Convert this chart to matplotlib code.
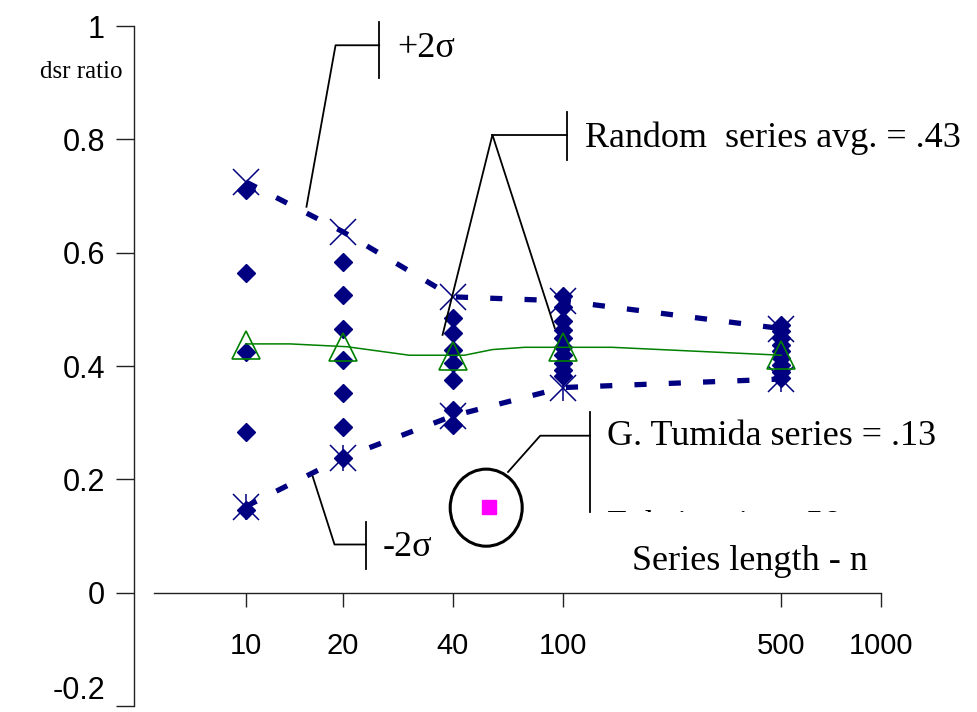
import numpy as np
import matplotlib.pyplot as plt
from matplotlib.patches import Ellipse
from matplotlib.transforms import Bbox, TransformedBbox

# -------------------------
# data
# -------------------------
n_labels = ['10', '20', '40', '100', '500', '1000']
n_pos = [0.885, 1.82, 2.88, 3.94, 6.04, 7.0]      # category slots on the x axis

dsr_10 = [0.711, 0.564, 0.425, 0.284, 0.146]
dsr_20 = [0.584, 0.525, 0.466, 0.410, 0.352, 0.293, 0.238]
dsr_40 = [0.485, 0.458, 0.428, 0.405, 0.375, 0.323, 0.296]
dsr_100 = [0.523, 0.505, 0.479, 0.464, 0.450, 0.434, 0.420, 0.405, 0.393, 0.382]
dsr_500 = [0.473, 0.461, 0.450, 0.437, 0.426, 0.414, 0.402, 0.390, 0.379]
dsr_cols = [dsr_10, dsr_20, dsr_40, dsr_100, dsr_500]

plus_2s = [0.725, 0.637, 0.522, 0.515, 0.466]
minus_2s = [0.152, 0.238, 0.312, 0.362, 0.377]
avg_pts = [0.437, 0.433, 0.418, 0.434, 0.419]

avg_line_x = [0.885, 1.31, 1.86, 2.46, 2.99, 3.26, 3.57, 4.41, 6.04]
avg_line_y = [0.439, 0.439, 0.434, 0.419, 0.419, 0.429, 0.433, 0.433, 0.419]

tumida_x = 3.23
tumida_y = 0.152

y_ticks = [-0.2, 0, 0.2, 0.4, 0.6, 0.8, 1.0]
y_labels = ['-0.2', '0', '0.2', '0.4', '0.6', '0.8', '1']

navy = '#000080'
serif = ['Liberation Serif', 'DejaVu Serif']
sans = ['Liberation Sans', 'DejaVu Sans']

fig = plt.figure(figsize=(9.77, 7.12), dpi=100)
ax = fig.add_axes([134 / 977, 1 - 706 / 712, (881 - 134) / 977, (706 - 26) / 712])
ax.set_xlim(-0.19, 7.0)
ax.set_ylim(-0.2, 1.0)

# -------------------------
# series
# -------------------------
xs5 = n_pos[:5]
ax.plot(xs5, plus_2s, color=navy, lw=3.8, ls=(0, (2.3, 4.2)), zorder=2)
ax.plot(xs5, minus_2s, color=navy, lw=3.8, ls=(0, (2.3, 4.2)), zorder=2)

for x, col in zip(xs5, dsr_cols):
    ax.plot([x] * len(col), col, ls='none', marker='D', ms=9, color=navy, zorder=3)

ax.plot(xs5, plus_2s, ls='none', marker='x', ms=19, mew=1.1, color=navy, zorder=4)
ax.plot(xs5, minus_2s, ls='none', marker='x', ms=19, mew=1.1, color=navy, zorder=4)
ax.plot(xs5, minus_2s, ls='none', marker='|', ms=19, mew=1.1, color=navy, zorder=4)

ax.plot(avg_line_x, avg_line_y, color='#008000', lw=1.1, zorder=5)
ax.plot(xs5, avg_pts, ls='none', marker='^', ms=19.5, mfc='none', mec='#008000',
        mew=1.2, zorder=5)

ax.plot([tumida_x], [tumida_y], ls='none', marker='s', ms=10.5, color='#FF00FF', zorder=5)
ax.add_patch(Ellipse((3.20, 0.150), 0.693, 0.136, fill=False, ec='black', lw=2.2, zorder=5))

# -------------------------
# axes
# -------------------------
for s in ['top', 'right']:
    ax.spines[s].set_visible(False)
ax.spines['bottom'].set_position(('data', 0))
ax.spines['bottom'].set_bounds(0, 7.0)
ax.spines['left'].set_bounds(-0.2, 1.0)
for s in ['bottom', 'left']:
    ax.spines[s].set_linewidth(1.0)
    ax.spines[s].set_color('#222222')

ax.set_xticks(n_pos)
ax.set_xticklabels(n_labels, family=sans, fontsize=21)
ax.set_yticks(y_ticks)
ax.set_yticklabels(y_labels, family=sans, fontsize=22)
ax.tick_params(axis='x', direction='out', length=10, width=1.0, color='#222222', pad=18)
ax.tick_params(axis='y', direction='out', length=13, width=1.0, color='#222222', pad=8)
# bottom label sits a little above its tick in the original
ax.get_yticklabels()[0].set_va('bottom')

fig.text(81 / 977, 1 - 72 / 712, 'dsr ratio', family=serif, fontsize=18,
         ha='center', va='center')
ax.text(4.60, 0.055, 'Series length - n', family=serif, fontsize=26, ha='left', va='center')

# -------------------------
# callouts
# -------------------------
kw = dict(color='black', lw=1.3, clip_on=False, zorder=6)

ax.plot([1.47, 1.75, 2.17], [0.681, 0.966, 0.966], **kw)
ax.plot([2.17, 2.17], [0.908, 1.007], **kw)
ax.text(2.34, 0.961, '+2σ', family=serif, fontsize=26, ha='left', va='center')

ax.plot([2.78, 3.26, 3.86], [0.455, 0.808, 0.467], **kw)
ax.plot([3.26, 3.98], [0.808, 0.808], **kw)
ax.plot([3.98, 3.98], [0.764, 0.848], **kw)
ax.text(4.15, 0.802, 'Random  series avg. = .43', family=serif, fontsize=26,
        ha='left', va='center')

ax.plot([3.41, 3.72, 4.20], [0.213, 0.277, 0.277], **kw)
ax.plot([4.20, 4.20], [0.143, 0.319], **kw)
ax.text(4.36, 0.275, 'G. Tumida series = .13', family=serif, fontsize=26,
        ha='left', va='center')
cut = ax.text(4.36, 0.116, 'Fohsi series  .58', family=serif, fontsize=26,
              ha='left', va='center')
cut.set_clip_on(True)
cut.set_clip_box(TransformedBbox(Bbox([[4.2, 0.143], [7.5, 0.4]]), ax.transData))

ax.plot([1.53, 1.74, 2.04], [0.205, 0.085, 0.085], **kw)
ax.plot([2.04, 2.04], [0.041, 0.125], **kw)
ax.text(2.20, 0.079, '-2σ', family=serif, fontsize=26, ha='left', va='center')

fig.savefig('out.png', dpi=100)
